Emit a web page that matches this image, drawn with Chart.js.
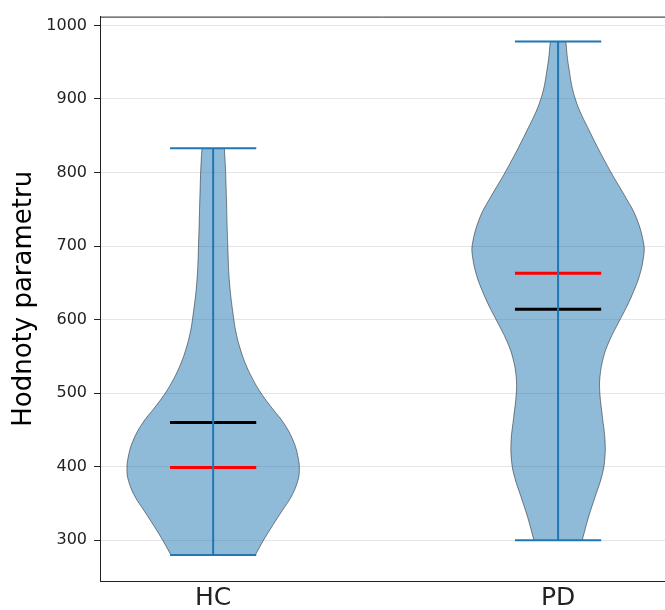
<!DOCTYPE html>
<html>
<head>
<meta charset="utf-8">
<script src="https://cdn.jsdelivr.net/npm/chart.js@4.4.1/dist/chart.umd.min.js"></script>
<style>
  html, body { margin: 0; padding: 0; background: #fff; }
  #wrap { width: 665px; height: 610px; }
</style>
</head>
<body>
<div id="wrap"><canvas id="chartViolin"></canvas></div>
<script>
// === Données ===
const categories = ["HC", "PD"];
const positions = [1, 2];
const minima = [280, 300];
const maxima = [833, 978];
const moyennes = [460, 614];
const medianes = [399, 663];
const yTicks = [300, 400, 500, 600, 700, 800, 900, 1000];

// profils de densité : valeur -> largeur relative (1 = plus large)
const hcValeurs = [280, 300, 320, 340, 360, 380, 395, 413, 435, 459, 480, 500, 520, 540, 560, 580, 600, 650, 700, 800, 833];
const hcDensite = [0.49, 0.585, 0.69, 0.80, 0.91, 0.98, 1.0, 0.985, 0.93, 0.82, 0.68, 0.555, 0.455, 0.375, 0.315, 0.27, 0.24, 0.19, 0.17, 0.145, 0.13];
const pdValeurs = [300, 332, 359, 386, 408, 435, 467, 499, 521, 548, 571, 598, 616, 638, 660, 684, 702, 738, 765, 801, 855, 900, 946, 978];
const pdDensite = [0.28, 0.355, 0.43, 0.505, 0.54, 0.545, 0.515, 0.485, 0.485, 0.525, 0.595, 0.71, 0.79, 0.875, 0.945, 0.99, 0.995, 0.91, 0.79, 0.61, 0.37, 0.20, 0.12, 0.09];

// === Styles ===
const bleu = "#1f77b4";
const demiLargeur = 0.25;   // demi-largeur max d'un violon (unités de x)
const demiCap = 0.125;      // demi-longueur des traits horizontaux
const encre = "#222";

// === Construction des datasets ===
// une moitié de violon : courbe le long de y, remplie jusqu'à l'axe central
function demiViolon(i, valeurs, densite, sens) {
  const p = positions[i];
  return {
    indexAxis: "y",
    data: valeurs.map((v, k) => ({ x: p + sens * densite[k] * demiLargeur, y: v })),
    fill: { value: p },
    backgroundColor: "rgba(31,119,180,0.5)",
    borderColor: "rgba(0,0,0,0.45)",
    borderWidth: 1,
    pointRadius: 0,
    tension: 0.4,
    order: 3
  };
}

function trait(points, couleur, epaisseur) {
  return {
    data: points,
    fill: false,
    borderColor: couleur,
    borderWidth: epaisseur,
    pointRadius: 0,
    tension: 0,
    order: 1
  };
}

const datasets = [];
positions.forEach((p, i) => {
  // barre verticale min -> max
  datasets.push(trait([{ x: p, y: minima[i] }, { x: p, y: maxima[i] }], bleu, 2));
  // extrémités
  datasets.push(trait([{ x: p - demiCap, y: minima[i] }, { x: p + demiCap, y: minima[i] }], bleu, 2));
  datasets.push(trait([{ x: p - demiCap, y: maxima[i] }, { x: p + demiCap, y: maxima[i] }], bleu, 2));
  // moyenne (noir) et médiane (rouge)
  datasets.push(trait([{ x: p - demiCap, y: moyennes[i] }, { x: p + demiCap, y: moyennes[i] }], "#000", 3));
  datasets.push(trait([{ x: p - demiCap, y: medianes[i] }, { x: p + demiCap, y: medianes[i] }], "#ff0000", 3));
});
[[hcValeurs, hcDensite], [pdValeurs, pdDensite]].forEach(([valeurs, densite], i) => {
  datasets.push(demiViolon(i, valeurs, densite, 1));
  datasets.push(demiViolon(i, valeurs, densite, -1));
});

// === Cadre supérieur ===
const cadreHaut = {
  id: "cadreHaut",
  afterDraw(chart) {
    const { ctx, chartArea: a } = chart;
    ctx.save();
    ctx.strokeStyle = encre;
    ctx.lineWidth = 1;
    ctx.beginPath();
    ctx.moveTo(a.left, a.top + 0.5);
    ctx.lineTo(a.right, a.top + 0.5);
    ctx.stroke();
    ctx.restore();
  }
};

// === Graphique ===
const ctx = document.getElementById("chartViolin").getContext("2d");
const chart = new Chart(ctx, {
  type: "line",
  data: { datasets },
  options: {
    responsive: true,
    maintainAspectRatio: false,
    animation: false,
    layout: { padding: { top: 14, left: 0, right: 0, bottom: 0 } },
    plugins: { legend: { display: false }, tooltip: { enabled: false } },
    scales: {
      x: {
        type: "linear",
        min: 0.672,
        max: 2.31,
        afterBuildTicks: (scale) => { scale.ticks = positions.map(v => ({ value: v })); },
        afterFit: (scale) => { scale.height = 29; },
        grid: { display: false, drawTicks: false },
        border: { display: true, color: encre, width: 1 },
        ticks: {
          padding: 2,
          color: encre,
          font: { family: "DejaVu Sans", size: 25 },
          callback: (v) => categories[positions.indexOf(v)]
        }
      },
      y: {
        type: "linear",
        min: 244.5,
        max: 1012,
        afterBuildTicks: (scale) => { scale.ticks = yTicks.map(v => ({ value: v })); },
        afterFit: (scale) => { scale.width = 100; },
        grid: { color: "rgba(0,0,0,0.1)", tickColor: encre, tickLength: 6, drawTicks: true },
        border: { display: true, color: encre, width: 1 },
        ticks: {
          padding: 7,
          color: encre,
          font: { family: "DejaVu Sans", size: 16 },
          callback: (v) => String(v)
        },
        title: {
          display: true,
          text: "Hodnoty parametru",
          color: "#000",
          padding: { top: 9, bottom: 0 },
          font: { family: "DejaVu Sans", size: 26 }
        }
      }
    }
  },
  plugins: [cadreHaut]
});
</script>
</body>
</html>
